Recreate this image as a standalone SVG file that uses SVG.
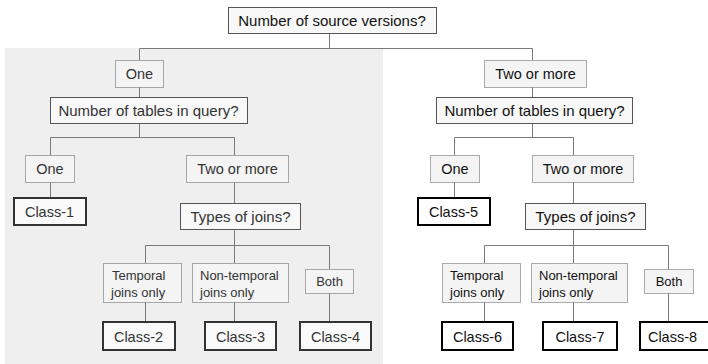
<svg xmlns="http://www.w3.org/2000/svg" width="708" height="364" viewBox="0 0 708 364">
  <style>
    text { font-family: "Liberation Sans", Arial, sans-serif; fill: #111; }
    .q { font-size: 15px; text-anchor: middle; }
    .a { font-size: 14.5px; text-anchor: middle; }
    .s { font-size: 13px; }
    .qbox { fill: #f8f8f8; stroke: #555; stroke-width: 1; }
    .abox { fill: #f4f4f4; stroke: #5a5a5a; stroke-width: 1; stroke-dasharray: 1 1; }
    .cbox { fill: #fafafa; stroke: #333; stroke-width: 2; }
    .cbox.r { fill: #fff; stroke: #000; }
    .l text { fill: #333; }
    #connectors path { fill: none; stroke: #7a7a7a; stroke-width: 1; }
  </style>

  <!-- shaded half for the single-version branch -->
  <rect x="5" y="48" width="378" height="316" fill="#efefef"/>

  <g id="connectors">
    <path d="M329.5,33 V48.5 M139.5,48.5 H532.5 M139.5,48.5 V60 M532.5,48.5 V60"/>
    <!-- left branch -->
    <path d="M139.5,87 V97 M139.5,123 V137.5 M50.5,137.5 H234.5 M50.5,137.5 V155 M50.5,182 V197 M234.5,137.5 V155 M234.5,182 V203 M234.5,229 V245.5"/>
    <path d="M145.5,245.5 H329.5 M145.5,245.5 V263 M234.5,245.5 V263 M329.5,245.5 V269 M145.5,302 V321 M234.5,302 V321 M329.5,293 V321"/>
    <!-- right branch -->
    <path d="M532.5,87 V97 M532.5,123 V137.5 M454.5,137.5 H573.5 M454.5,137.5 V155 M454.5,182 V197 M573.5,137.5 V155 M573.5,182 V203 M573.5,229 V245.5"/>
    <path d="M484.5,245.5 H668.5 M484.5,245.5 V263 M573.5,245.5 V263 M668.5,245.5 V269 M484.5,302 V321 M573.5,302 V321 M668.5,293 V321"/>
  </g>

  <g id="root">
    <rect class="qbox" x="228.5" y="7.5" width="208" height="26" fill="#fbfbfb"/>
    <text class="q" x="332" y="25.5">Number of source versions?</text>
  </g>

  <!-- one source version -->
  <g class="l">
    <g id="one-version">
      <rect class="abox" x="115.5" y="60.5" width="48" height="27"/>
      <text class="a" x="139.5" y="79">One</text>
    </g>
    <g id="tables-left">
      <rect class="qbox" x="50.5" y="97.5" width="197" height="26"/>
      <text class="q" x="148.5" y="115.5">Number of tables in query?</text>
    </g>
    <g id="one-table-left">
      <rect class="abox" x="25.5" y="155.5" width="49" height="27"/>
      <text class="a" x="50" y="174">One</text>
    </g>
    <g id="class-1">
      <rect class="cbox" x="14" y="198" width="72" height="27"/>
      <text class="a" x="49.5" y="216.5">Class-1</text>
    </g>
    <g id="many-tables-left">
      <rect class="abox" x="186.5" y="155.5" width="102" height="27"/>
      <text class="a" x="237.5" y="174">Two or more</text>
    </g>
    <g id="joins-left">
      <rect class="qbox" x="180.5" y="203.5" width="120" height="26"/>
      <text class="q" x="240.5" y="221.5">Types of joins?</text>
    </g>
    <g id="temporal-left">
      <rect class="abox" x="103.5" y="263.5" width="78" height="39"/>
      <text class="s" x="112" y="280">Temporal</text>
      <text class="s" x="111" y="297">joins only</text>
    </g>
    <g id="nontemporal-left">
      <rect class="abox" x="192.5" y="263.5" width="96" height="39"/>
      <text class="s" x="200" y="280">Non-temporal</text>
      <text class="s" x="200" y="297">joins only</text>
    </g>
    <g id="both-left">
      <rect class="abox" x="305.5" y="269.5" width="48" height="24"/>
      <text class="s" x="329.5" y="286" text-anchor="middle">Both</text>
    </g>
    <g id="class-2">
      <rect class="cbox" x="103" y="322" width="72" height="28"/>
      <text class="a" x="138.5" y="341.5">Class-2</text>
    </g>
    <g id="class-3">
      <rect class="cbox" x="205" y="322" width="71" height="28"/>
      <text class="a" x="240.5" y="341.5">Class-3</text>
    </g>
    <g id="class-4">
      <rect class="cbox" x="300" y="322" width="71" height="28"/>
      <text class="a" x="335.5" y="341.5">Class-4</text>
    </g>
  </g>

  <!-- two or more source versions -->
  <g id="many-versions">
    <rect class="abox" x="484.5" y="60.5" width="102" height="27" fill="#fafafa"/>
    <text class="a" x="535.5" y="79">Two or more</text>
  </g>
  <g id="tables-right">
    <rect class="qbox" x="436.5" y="97.5" width="196" height="26"/>
    <text class="q" x="534.5" y="115.5">Number of tables in query?</text>
  </g>
  <g id="one-table-right">
    <rect class="abox" x="430.5" y="155.5" width="49" height="27" fill="#fafafa"/>
    <text class="a" x="455" y="174">One</text>
  </g>
  <g id="class-5">
    <rect class="cbox r" x="418" y="198" width="72" height="27"/>
    <text class="a" x="453.5" y="216.5">Class-5</text>
  </g>
  <g id="many-tables-right">
    <rect class="abox" x="532.5" y="155.5" width="101" height="27" fill="#fafafa"/>
    <text class="a" x="583" y="174">Two or more</text>
  </g>
  <g id="joins-right">
    <rect class="qbox" x="525.5" y="203.5" width="120" height="26"/>
    <text class="q" x="585.5" y="221.5">Types of joins?</text>
  </g>
  <g id="temporal-right">
    <rect class="abox" x="442.5" y="263.5" width="78" height="39" fill="#fafafa"/>
    <text class="s" x="450" y="280">Temporal</text>
    <text class="s" x="450" y="297">joins only</text>
  </g>
  <g id="nontemporal-right">
    <rect class="abox" x="531.5" y="263.5" width="96" height="39" fill="#fafafa"/>
    <text class="s" x="539" y="280">Non-temporal</text>
    <text class="s" x="539" y="297">joins only</text>
  </g>
  <g id="both-right">
    <rect class="abox" x="644.5" y="269.5" width="49" height="24" fill="#fafafa"/>
    <text class="s" x="669" y="286" text-anchor="middle">Both</text>
  </g>
  <g id="class-6">
    <rect class="cbox r" x="442" y="322" width="71" height="28"/>
    <text class="a" x="477.5" y="341.5">Class-6</text>
  </g>
  <g id="class-7">
    <rect class="cbox r" x="543" y="322" width="74" height="28"/>
    <text class="a" x="580" y="341.5">Class-7</text>
  </g>
  <g id="class-8">
    <rect class="cbox r" x="640" y="322" width="72" height="28"/>
    <text class="a" x="672.5" y="341.5">Class-8</text>
  </g>
</svg>
